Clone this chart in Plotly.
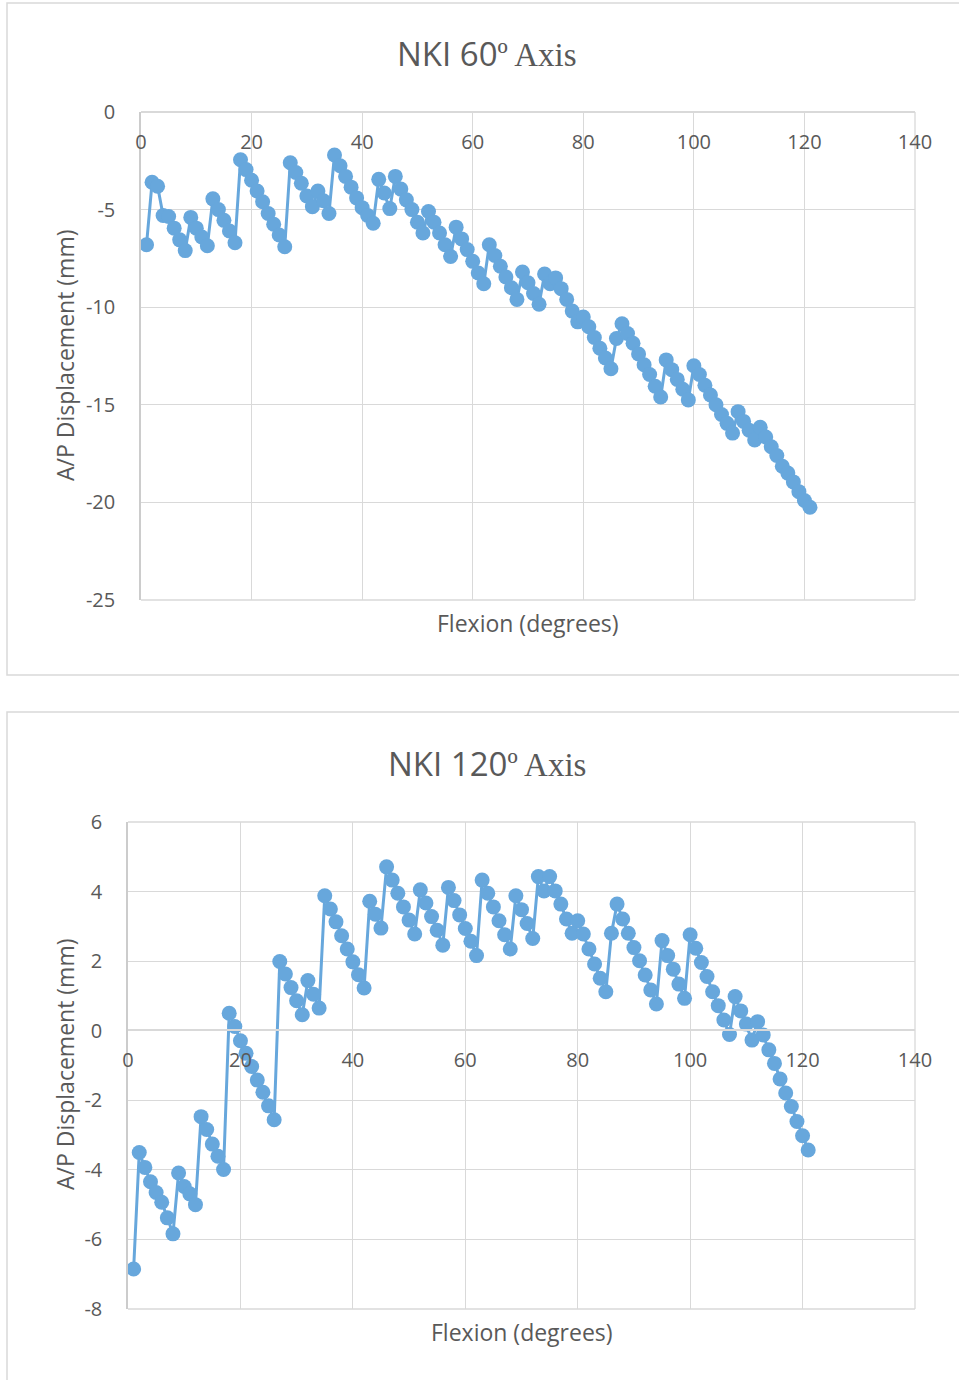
import plotly.graph_objects as go

# ---------------- data ----------------
flexion_deg = [1, 2, 3, 4, 5, 6, 7, 8, 9, 10,
               11, 12, 13, 14, 15, 16, 17, 18, 19, 20,
               21, 22, 23, 24, 25, 26, 27, 28, 29, 30,
               31, 32, 33, 34, 35, 36, 37, 38, 39, 40,
               41, 42, 43, 44, 45, 46, 47, 48, 49, 50,
               51, 52, 53, 54, 55, 56, 57, 58, 59, 60,
               61, 62, 63, 64, 65, 66, 67, 68, 69, 70,
               71, 72, 73, 74, 75, 76, 77, 78, 79, 80,
               81, 82, 83, 84, 85, 86, 87, 88, 89, 90,
               91, 92, 93, 94, 95, 96, 97, 98, 99, 100,
               101, 102, 103, 104, 105, 106, 107, 108, 109, 110,
               111, 112, 113, 114, 115, 116, 117, 118, 119, 120,
               121]

ap_60_axis = [-6.8, -3.6, -3.8, -5.3, -5.35, -5.95, -6.55, -7.1, -5.4, -5.95,
              -6.4, -6.85, -4.45, -5.0, -5.55, -6.1, -6.7, -2.45, -2.95, -3.5,
              -4.05, -4.6, -5.2, -5.75, -6.3, -6.9, -2.6, -3.1, -3.65, -4.3,
              -4.85, -4.05, -4.55, -5.2, -2.2, -2.75, -3.3, -3.85, -4.4, -4.9,
              -5.3, -5.7, -3.45, -4.15, -4.95, -3.3, -3.95, -4.5, -5.0, -5.65,
              -6.2, -5.1, -5.65, -6.2, -6.8, -7.4, -5.9, -6.5, -7.05, -7.65,
              -8.25, -8.8, -6.8, -7.35, -7.9, -8.45, -9.0, -9.6, -8.2, -8.75,
              -9.3, -9.85, -8.3, -8.8, -8.5, -9.05, -9.6, -10.2, -10.75, -10.5,
              -11.0, -11.55, -12.1, -12.6, -13.15, -11.6, -10.85, -11.35, -11.85, -12.4,
              -12.95, -13.45, -14.05, -14.6, -12.7, -13.2, -13.7, -14.2, -14.75, -13.0,
              -13.45, -14.0, -14.5, -15.0, -15.5, -15.95, -16.45, -15.35, -15.85, -16.3,
              -16.8, -16.15, -16.65, -17.15, -17.6, -18.15, -18.5, -18.95, -19.45, -19.9,
              -20.25]

ap_120_axis = [-6.85, -3.5, -3.93, -4.34, -4.65, -4.93, -5.38, -5.84, -4.09, -4.48,
               -4.69, -5.0, -2.47, -2.84, -3.26, -3.61, -3.99, 0.5, 0.12, -0.29,
               -0.65, -1.03, -1.42, -1.77, -2.16, -2.56, 1.99, 1.63, 1.24, 0.86,
               0.46, 1.44, 1.05, 0.65, 3.88, 3.5, 3.13, 2.73, 2.35, 1.98,
               1.61, 1.23, 3.72, 3.35, 2.95, 4.71, 4.33, 3.95, 3.56, 3.18,
               2.78, 4.05, 3.67, 3.28, 2.89, 2.46, 4.12, 3.74, 3.33, 2.94,
               2.57, 2.16, 4.33, 3.95, 3.56, 3.16, 2.76, 2.35, 3.88, 3.48,
               3.08, 2.65, 4.43, 4.02, 4.43, 4.02, 3.64, 3.21, 2.8, 3.16,
               2.78, 2.35, 1.92, 1.51, 1.12, 2.8, 3.64, 3.21, 2.8, 2.39,
               2.01, 1.6, 1.17, 0.77, 2.59, 2.16, 1.77, 1.34, 0.93, 2.76,
               2.37, 1.96, 1.56, 1.12, 0.72, 0.31, -0.11, 0.98, 0.57, 0.19,
               -0.27, 0.26, -0.12, -0.55, -0.94, -1.39, -1.79, -2.18, -2.61, -3.02,
               -3.43]

x_ticks = [0, 20, 40, 60, 80, 100, 120, 140]
y_ticks_60 = [0, -5, -10, -15, -20, -25]
y_ticks_120 = [6, 4, 2, 0, -2, -4, -6, -8]

titles = ["NKI 60", "NKI 120"]
x_title = "Flexion (degrees)"
y_title = "A/P Displacement (mm)"

# ---------------- style ----------------
W, H = 959, 1380
BLUE = "#67a7dc"
GRID = "#d9d9d9"
AXLINE = "#cccccc"
TXT = "#595959"
SANS = "Open Sans"
SERIF = "Liberation Serif"


def px_x(p):
    return p / W


def px_y(p):
    return 1 - p / H


def labels(vals):
    return [str(v) for v in vals]  # plain hyphen-minus, as in the original


fig = go.Figure()

for xa, ya, vals in [("x", "y", ap_60_axis), ("x2", "y2", ap_120_axis)]:
    fig.add_trace(go.Scatter(
        x=flexion_deg, y=vals, xaxis=xa, yaxis=ya, mode="lines+markers",
        line=dict(color=BLUE, width=3),
        marker=dict(color=BLUE, size=15, line=dict(width=0)),
        showlegend=False, hoverinfo="x+y"))

tickfont = dict(family=SANS, size=20, color=TXT)

common_x = dict(range=[0, 140], tickmode="array", tickvals=x_ticks,
                ticktext=labels(x_ticks), showgrid=True, gridcolor=GRID,
                gridwidth=1.3, zeroline=False, showline=True, linecolor=GRID,
                linewidth=1.5, ticks="", tickfont=tickfont, ticklabelstandoff=12,
                fixedrange=True, automargin=False)
common_y = dict(showgrid=True, gridcolor=GRID, gridwidth=1.3, zeroline=False,
                showline=True, linecolor=AXLINE, linewidth=1.5, ticks="",
                tickfont=tickfont, ticklabelstandoff=20, fixedrange=True,
                automargin=False, tickmode="array")

# top chart: plot area x 141..915, y 112..600 (y=0 at top)
top_y_dom = [px_y(600), px_y(112)]
fig.update_layout(
    xaxis=dict(domain=[px_x(141), px_x(915)], anchor="free",
               position=top_y_dom[1], side="bottom", **common_x),
    yaxis=dict(domain=top_y_dom, range=[-25, 0], tickvals=y_ticks_60,
               ticktext=labels(y_ticks_60), anchor="x", **common_y),
)

# bottom chart: plot area x 128..915, y 822..1309 ; y=0 at 1030
fig.update_layout(
    xaxis2=dict(domain=[px_x(128), px_x(915)], anchor="free",
                position=px_y(1030), side="bottom", **common_x),
    yaxis2=dict(domain=[px_y(1309), px_y(822)], range=[-8, 6],
                tickvals=y_ticks_120, ticktext=labels(y_ticks_120),
                anchor="x2", **common_y),
)

annotations = []
title_y = [54, 763]
for t, ty in zip(titles, title_y):
    annotations.append(dict(
        text=f'{t}<span style="font-family:{SERIF}">º Axis</span>',
        x=px_x(487), y=px_y(ty), xref="paper", yref="paper",
        xanchor="center", yanchor="middle", showarrow=False,
        font=dict(family=SANS, size=33, color=TXT)))

for cx, cy in [(528, 623), (522, 1332)]:
    annotations.append(dict(
        text=x_title, x=px_x(cx), y=px_y(cy), xref="paper", yref="paper",
        xanchor="center", yanchor="middle", showarrow=False,
        font=dict(family=SANS, size=23, color=TXT)))

for cy in [356, 1065]:
    annotations.append(dict(
        text=y_title, x=px_x(65), y=px_y(cy), xref="paper", yref="paper",
        xanchor="center", yanchor="middle", showarrow=False, textangle=-90,
        font=dict(family=SANS, size=23, color=TXT)))

shapes = [
    dict(type="rect", xref="paper", yref="paper",
         x0=px_x(7), x1=px_x(990), y0=px_y(675), y1=px_y(3),
         line=dict(color=GRID, width=1.5), fillcolor="rgba(0,0,0,0)", layer="below"),
    dict(type="rect", xref="paper", yref="paper",
         x0=px_x(7), x1=px_x(990), y0=px_y(1420), y1=px_y(712),
         line=dict(color=GRID, width=1.5), fillcolor="rgba(0,0,0,0)", layer="below"),
]
# plot-area frame edges (bottom and right) in axis-domain coordinates
for xr, yr in [("x domain", "y domain"), ("x2 domain", "y2 domain")]:
    shapes.append(dict(type="line", xref=xr, yref=yr, x0=0, x1=1, y0=0, y1=0,
                       line=dict(color=GRID, width=1.5), layer="below"))
    shapes.append(dict(type="line", xref=xr, yref=yr, x0=1, x1=1, y0=0, y1=1,
                       line=dict(color=GRID, width=1.3), layer="below"))
shapes.append(dict(type="line", xref="x2 domain", yref="y2 domain", x0=0, x1=1,
                   y0=1, y1=1, line=dict(color=GRID, width=1.3), layer="below"))

fig.update_layout(
    width=W, height=H, margin=dict(l=0, r=0, t=0, b=0, autoexpand=False),
    paper_bgcolor="white", plot_bgcolor="white",
    annotations=annotations, shapes=shapes,
    font=dict(family=SANS, color=TXT),
)

fig.write_html("out.html", config={"displayModeBar": False})
